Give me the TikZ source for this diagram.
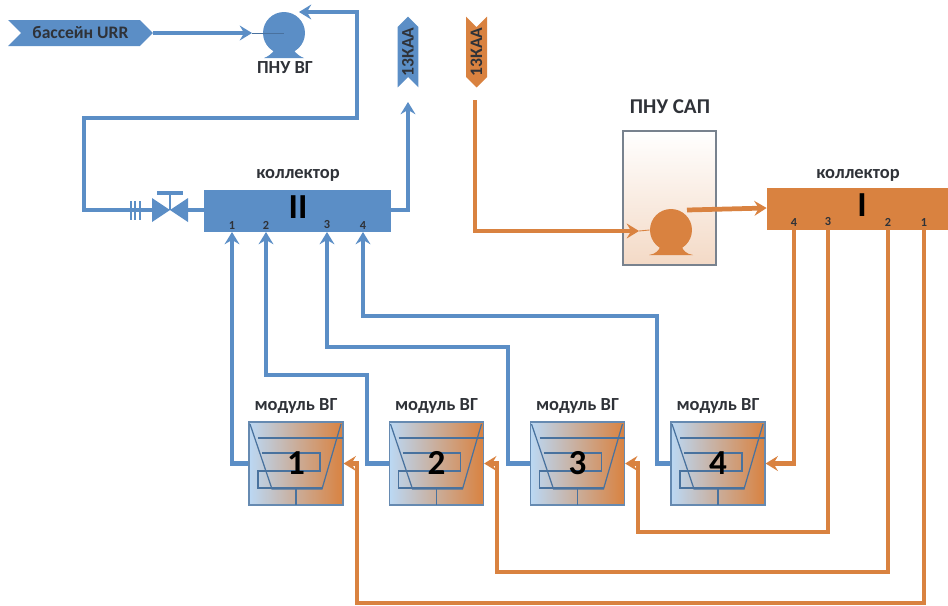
\documentclass[tikz,border=0pt]{standalone}
\usepackage{fontspec}
\setmainfont{Carlito}
\usetikzlibrary{arrows.meta,shapes.symbols}
\definecolor{pipeblue}{HTML}{5B8EC6}
\definecolor{pipeorange}{HTML}{D98240}
\definecolor{moduleblue}{HTML}{BBD8F4}
\definecolor{moduletan}{HTML}{C8A78C}
\definecolor{labelgray}{HTML}{2F3238}
\begin{document}
\begin{tikzpicture}[x=0.02cm, y=-0.02cm,
    caption/.style={font=\bfseries\fontsize{10.5}{12}\selectfont, text=labelgray, inner sep=0pt},
    pipeB/.style={draw=pipeblue, line width=2.7pt},
    pipeO/.style={draw=pipeorange, line width=2.7pt},
    tipped/.style={-{Stealth[length=7pt, width=8.5pt, inset=2.5pt]}},
    collector/.style={minimum width=187*0.02cm, minimum height=42*0.02cm, inner sep=0pt},
    roman/.style={font=\bfseries\fontsize{20}{20}\selectfont, text=black, inner sep=0pt},
    port/.style={font=\bfseries\fontsize{7}{8}\selectfont, text=labelgray, inner sep=1.5pt, anchor=south},
    pumpbody/.style={circle, minimum size=0.84cm, inner sep=0pt},
    tagsignal/.style={signal, signal pointer angle=90, inner sep=0pt, text=labelgray},
    tagwide/.style={font=\bfseries\fontsize{10}{11}\selectfont},
    tagtall/.style={font=\bfseries\fontsize{10}{11}\selectfont, rotate=90, minimum width=1.42cm, minimum height=0.42cm},
    module/.style={draw=pipeblue!70!gray, line width=0.7pt, left color=moduleblue, middle color=moduletan, right color=pipeorange, minimum width=1.88cm, minimum height=1.66cm, inner sep=0pt},
    digit/.style={font=\bfseries\fontsize{20}{20}\selectfont, text=black, inner sep=0pt},
    coil/.style={draw=pipeblue!80!black, line width=0.7pt}
  ]
    \useasboundingbox (0,0) rectangle (948,606);

    % --- Vetv' VG ---
    \node[tagsignal, tagwide, fill=pipeblue, signal to=east, signal from=west, minimum width=2.9cm, minimum height=26*0.02cm] (bassein) at (80.5,33) {бассейн URR};
    \node[pumpbody, fill=pipeblue] (pumpVG) at (284,33) {};
    \fill[pipeblue] (264,58) .. controls (272,55) and (274,50) .. (276,48) -- (292,48) .. controls (294,50) and (296,55) .. (304,58) -- cycle;
    \node[caption] (capVG) at (285,68) {ПНУ ВГ};
    \coordinate (inVG) at (252,33);
    \coordinate (topVG) at (299,12);
    \draw[pipeB, tipped] (bassein.east) -- (inVG);
    \draw[pipeblue!80!black, line width=0.5pt] (inVG) -- (pumpVG.center);

    \node[tagsignal, tagtall, fill=pipeblue, signal to=east, signal from=west] (kaaOut) at (408,52) {13КАА};
    \node[tagsignal, tagtall, fill=pipeorange, signal to=west, signal from=east] (kaaIn) at (476.5,52) {13КАА};

    % Kollektor II
    \node[collector, fill=pipeblue] (collB) at (297.5,211) {};
    \node[roman] (romanB) at (298,207) {II};
    \node[caption] (capB) at (298,175) {коллектор};
    \node[port] (pB1) at (232,232) {1};
    \node[port] (pB2) at (266,232) {2};
    \node[port] (pB3) at (327,232) {3};
    \node[port] (pB4) at (363,232) {4};

    % Zadvizhka i flanec
    \node[minimum width=36*0.02cm, minimum height=24*0.02cm, inner sep=0pt] (valveVG) at (170,210) {};
    \fill[pipeblue] (152,198) -- (188,222) -- (188,198) -- (152,222) -- cycle;
    \draw[pipeblue, line width=1.6pt] (170,210) -- (170,193);
    \draw[pipeblue, line width=2.2pt] (157,193) -- (183,193);
    \coordinate (turnA) at (357,12);
    \coordinate (turnB) at (357,118);
    \coordinate (turnC) at (84,118);
    \coordinate (turnD) at (84,210);
    \draw[pipeB, tipped] (valveVG.west) -- (turnD) -- (turnC) -- (turnB) -- (turnA) -- (topVG);
    \draw[pipeB] (collB.west |- valveVG) -- (valveVG.east);
    \draw[pipeblue, line width=1.4pt] (131,201) -- (131,220) (135,201) -- (135,220) (140,201) -- (140,220);
    \coordinate (outB) at (collB.east |- valveVG);
    \coordinate (tipKaa) at (408,102);
    \draw[pipeB, tipped] (outB) -| (tipKaa);

    % --- Vetv' SAP ---
    \node[draw=gray!80!pipeblue, line width=0.8pt, top color=white, bottom color=pipeorange!30, minimum width=93*0.02cm, minimum height=134*0.02cm, inner sep=0pt] (boxSAP) at (669.5,198) {};
    \node[caption, font=\bfseries\fontsize{12}{14}\selectfont] (capSAP) at (670,107) {ПНУ САП};
    \node[pumpbody, fill=pipeorange] (pumpSAP) at (671,230) {};
    \fill[pipeorange] (649,255) .. controls (656,254) and (659,250) .. (660,247) -- (682,247) .. controls (683,250) and (686,254) .. (693,255) -- cycle;
    \coordinate (startO) at (475,100);
    \coordinate (turnE) at (475,231);
    \coordinate (inSAP) at (639,231);
    \draw[pipeO, tipped] (startO) -- (turnE) -- (inSAP);
    \draw[pipeorange, line width=0.5pt] (inSAP) -- (pumpSAP.west);

    % Kollektor I
    \node[collector, fill=pipeorange, minimum width=181*0.02cm] (collO) at (857.5,208.5) {};
    \node[roman] (romanO) at (862,205) {I};
    \node[caption] (capO) at (858,175) {коллектор};
    \node[port] (pO4) at (794,229) {4};
    \node[port] (pO3) at (828,229) {3};
    \node[port] (pO2) at (888,229) {2};
    \node[port] (pO1) at (924,229) {1};
    \coordinate (outSAP) at (687,210);
    \coordinate (inO) at (collO.west |- 0,208);
    \draw[pipeO, tipped] (outSAP) -- (inO);

    % --- Moduli VG ---
    \foreach \name/\px/\num in {modA/296/1, modB/436.5/2, modC/577.5/3, modD/718/4}{
      \node[module] (\name) at (\px,463.5) {};
      \begin{scope}[shift={(\px-296,0)}]
        \draw[coil] (250,424) -- (272,489) -- (322,489) -- (341,424);
        \draw[coil] (258,438) -- (343,438);
        \draw[coil] (262,453) -- (320,453) -- (320,471) -- (258,471) -- (258,488) -- (322,488);
        \draw[coil] (296,489) -- (296,505);
      \end{scope}
      \node[digit] (\name num) at (\px,463) {\num};
      \node[caption] (\name cap) at (\px,406) {модуль ВГ};
    }

    % Vozvrat v kollektor II
    \coordinate (busB) at (367,375);
    \coordinate (busC) at (508,347);
    \coordinate (busD) at (657,316);
    \draw[pipeB, tipped] (modA.west) -| (pB1.south);
    \draw[pipeB, tipped] (modB.west) -| (busB) -| (pB2.south);
    \draw[pipeB, tipped] (modC.west) -| (busC) -| (pB3.south);
    \draw[pipeB, tipped] (modD.west) -| (busD) -| (pB4.south);

    % Podacha ot kollektora I
    \coordinate (busO3) at (638,532);
    \coordinate (busO2) at (497,572);
    \coordinate (busO1) at (357,603);
    \draw[pipeO, tipped] (pO4.south) |- (modD.east);
    \draw[pipeO, tipped] (pO3.south) |- (busO3) |- (modC.east);
    \draw[pipeO, tipped] (pO2.south) |- (busO2) |- (modB.east);
    \draw[pipeO, tipped] (pO1.south) |- (busO1) |- (modA.east);
  \end{tikzpicture}
\end{document}
